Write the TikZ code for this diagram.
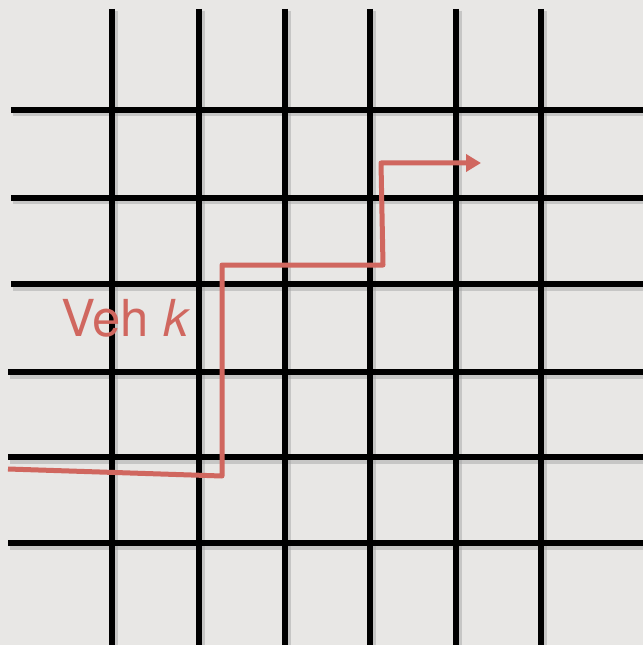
\documentclass[tikz,border=0pt]{standalone}
\usepackage{fontspec}
\setmainfont{TeX Gyre Heros}
\usetikzlibrary{arrows.meta}

\definecolor{bgray}{HTML}{E8E7E5}
\definecolor{vehred}{HTML}{D0675F}

\tikzset{
  street/.style={line width=0.12cm, black},
  shade/.style={line width=0.14cm, black!35, opacity=0.5},
  route/.style={line width=0.1cm, vehred, line join=round},
}

\begin{document}
\begin{tikzpicture}[x=0.02cm, y=-0.02cm]

  \fill[bgray] (0,0) rectangle (643,645);
  \useasboundingbox (0,0) rectangle (643,645);

  % Shadows
  \foreach \x in {112,199,285,370,456,541}
    \draw[shade] (\x+2,11) -- (\x+2,645);
  \foreach \y/\s in {110/11,198/11,284/11,372/8,457/8,543/8}
    \draw[shade] (\s+2,\y+3) -- (643,\y+3);

  % Streets
  \foreach \x in {112,199,285,370,456,541}
    \draw[street] (\x,9) -- (\x,645);
  \foreach \y/\s in {110/11,198/11,284/11,372/8,457/8,543/8}
    \draw[street] (\s,\y) -- (643,\y);

  % Vehicle route
  \coordinate (start) at (8,469);
  \coordinate (c1) at (222,476);
  \coordinate (c2) at (222,265);
  \coordinate (c3) at (383,265);
  \coordinate (c4) at (381,163);
  \coordinate (goal) at (481,163);

  \draw[route, -{Triangle[length=0.3cm, width=0.34cm]}]
    (start) -- (c1) -- (c2) -- (c3) -- (c4) -- (goal);

  \node[vehred, anchor=base west, inner sep=0pt, font=\fontsize{29}{31}\selectfont]
    (veh) at (61,336) {Veh \textit{k}};

\end{tikzpicture}
\end{document}
